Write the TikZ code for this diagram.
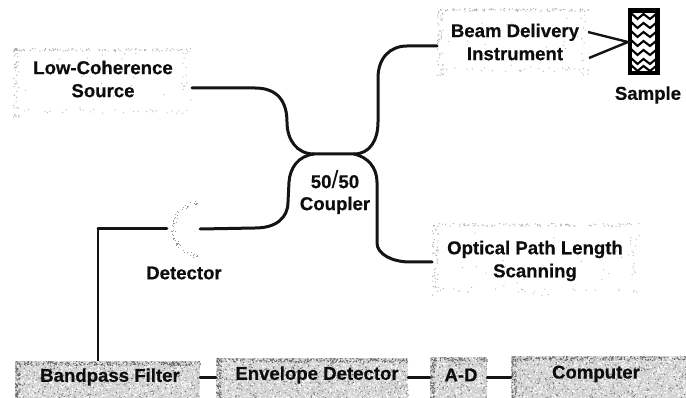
\documentclass[tikz,border=0pt]{standalone}
\usepackage{fontspec}
\setmainfont{Liberation Sans}[BoldFeatures={FakeBold=0.5}]
\newcommand\speck[6]{\fill[#5] \foreach \i in {1,...,#6}{ ({#1+rnd*(#3-#1)},{#2+rnd*(#4-#2)}) rectangle ++(1,1) };}
% faint box: sparse dots, denser along the top and left edges
\newcommand\faintbox[4]{%
  \speck{#1}{#2}{#3}{#2+3}{black!32}{90}
  \speck{#1}{#2}{#1+6}{#4}{black!32}{45}
  \speck{#1}{#4-4}{#3}{#4}{black!28}{22}
  \speck{#3-5}{#2}{#3}{#4}{black!28}{12}
  \speck{#1}{#2}{#3}{#4}{black!28}{30}}
% grey box: dither over a grey ground, darker along the top and left edges
\newcommand\greybox[4]{%
  \fill[boxground] (#1,#2) rectangle (#3,#4);
  \pgfmathtruncatemacro\nA{(#3-#1)*2.5}%
  \pgfmathtruncatemacro\nB{(#3-#1)*7}%
  \pgfmathtruncatemacro\nC{(#3-#1)*1.2}%
  \speck{#1}{#2}{#3}{#4}{black!55}{\nA}
  \speck{#1}{#2}{#3}{#4}{white}{\nB}
  \speck{#1}{#2}{#3}{#2+4}{black!60}{\nC}
  \speck{#1}{#2}{#1+5}{#4}{black!60}{70}}
\definecolor{boxground}{HTML}{D2D2D2}
\tikzset{
  lbl/.style={font=\fontsize{18.6}{22}\selectfont\bfseries,align=center,inner sep=0pt,text=black!95},
  frame/.style={inner sep=0pt},
  fibre/.style={line width=3pt,line cap=round,black!92},
  wire/.style={line width=2.4pt,black!92},
}
\begin{document}
\begin{tikzpicture}[x=1pt,y=-1pt]
\useasboundingbox (0,0) rectangle (686,398);
\pgfmathsetseed{11}
% textures
\faintbox{13}{48}{192}{117}
\faintbox{437}{8}{590}{75}
\faintbox{432}{223}{640}{296}
\greybox{15}{361}{200}{398}
\greybox{216}{358}{408}{398}
\greybox{430}{357}{487}{398}
\greybox{511}{356}{686}{398}
% detector: dotted C
\foreach \i [evaluate=\i as \ang using 95+rnd*170, evaluate=\i as \rad using 25+4*rnd] in {1,...,70}
  \fill[black!40] ({200+\rad*cos(\ang)},{229+\rad*sin(\ang)}) rectangle ++(1,1);
% nodes
\node[frame,minimum width=179pt,minimum height=69pt] (source) at (102.5,82.5) {};
\node[frame,minimum width=153pt,minimum height=67pt] (beam) at (513.5,41.5) {};
\node[frame,minimum width=208pt,minimum height=73pt] (scan) at (536,259.5) {};
\node[frame,minimum width=33pt,minimum height=52pt] (det) at (183.5,229) {};
\node[frame,minimum width=185pt,minimum height=37pt] (bp) at (107.5,379.5) {};
\node[frame,minimum width=192pt,minimum height=40pt] (env) at (312,378) {};
\node[frame,minimum width=57pt,minimum height=41pt] (ad) at (458.5,377.5) {};
\node[frame,minimum width=175pt,minimum height=42pt] (comp) at (598.5,377) {};
\node[lbl] (sourcet) at (103,79) {Low-Coherence\\[1pt]Source};
\node[lbl] (beamt) at (515,42) {Beam Delivery\\[1pt]Instrument};
\node[lbl] (scant) at (535,261) {Optical Path Length\\[1pt]Scanning};
\node[lbl] (coupler) at (335,192) {50{\fontsize{25}{22}\selectfont\mdseries/}50\\Coupler};
\node[lbl] (dett) at (184,273) {Detector};
\node[lbl] (samplet) at (648,95) {Sample};
\node[lbl] (bpt) at (110,377) {Bandpass Filter};
\node[lbl] (envt) at (317,375) {Envelope Detector};
\node[lbl] (adt) at (461,375) {A-D};
\node[lbl] (compt) at (596,374) {Computer};
% sample
\node[draw=black,line width=3pt,fill=white,minimum width=26pt,minimum height=61pt,inner sep=0pt] (sample) at (643.5,42) {};
\foreach \y in {13,22,31,40,49,58,65}
  \draw[black,line width=2.1pt] (631,\y) -- (637.5,\y+6) -- (643.5,\y+1) -- (650,\y+6) -- (656,\y+1);
\draw[black,line width=3pt] (sample.north west) rectangle (sample.south east);
% ports
\coordinate (srcport) at (192,88);
\coordinate (beamport) at (437,46);
\coordinate (scanport) at (432,262);
\coordinate (bpin) at (98,361);
\coordinate (fl) at (98,229);
\coordinate (beamup) at (588,32);
\coordinate (beamdn) at (589,58);
\coordinate (samplein) at (628,42);
% fibres through the coupler
\draw[fibre] (srcport) -- (255,88) .. controls (278,88) and (287,102) .. (287,122)
  .. controls (287,140) and (297,154) .. (314,154) -- (354,154)
  .. controls (370,154) and (378,140) .. (378,122) -- (378,78)
  .. controls (378,58) and (390,46) .. (407,46) -- (beamport);
\draw[fibre] (det.east) -- (255,228) .. controls (276,228) and (288,218) .. (288,202)
  -- (289,182) .. controls (290,168) and (298,156) .. (314,154);
\draw[fibre] (354,154) .. controls (368,157) and (377,168) .. (377,182) -- (377,243)
  .. controls (377,254) and (392,262) .. (410,262) -- (scanport);
\draw[fibre] (det.west) -- (fl);
\draw[wire] (fl) -- (bpin);
\draw[wire] (beamup) -- (samplein) -- (beamdn);
\draw[fibre] (bp.east |- bpt) -- (env.west |- bpt);
\draw[fibre] (env.east |- bpt) -- (ad.west |- bpt);
\draw[fibre] (ad.east |- bpt) -- (comp.west |- bpt);
\end{tikzpicture}
\end{document}
